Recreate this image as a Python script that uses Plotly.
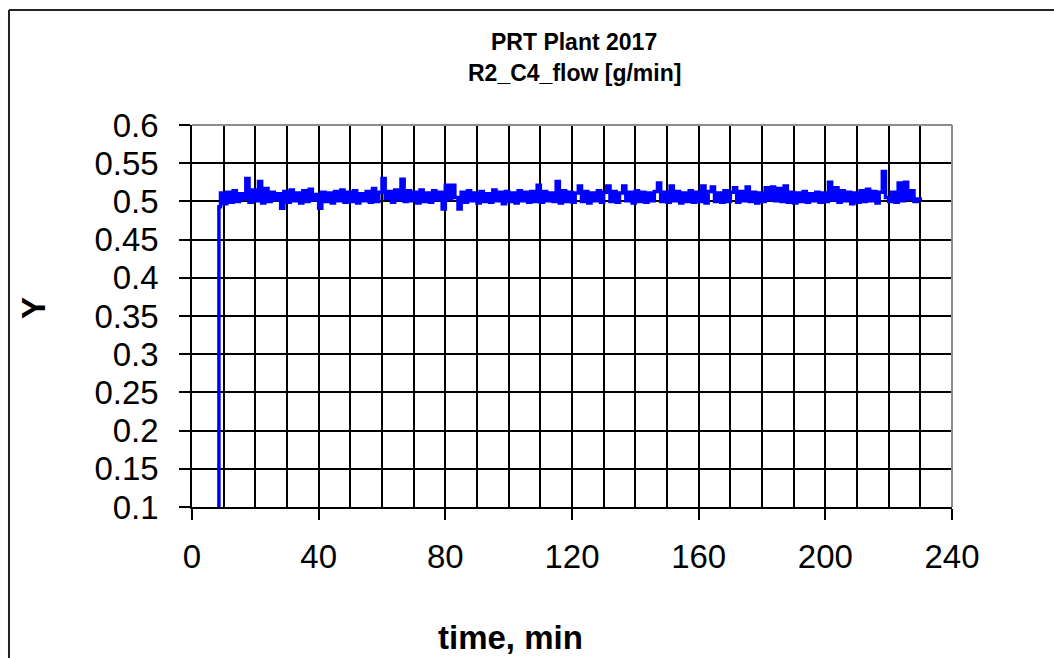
import plotly.graph_objects as go

# R2_C4_flow logged once per minute after the feed was switched on
start_time = [8.5, 8.5]
start_flow = [0.0, 0.493]

flow_time_first = 9
flow_values = [
    0.511, 0.497, 0.512, 0.499, 0.514, 0.500, 0.510, 0.503, 0.530, 0.499,
    0.515, 0.501, 0.526, 0.498, 0.517, 0.500, 0.512, 0.502, 0.510, 0.491,
    0.513, 0.499, 0.515, 0.501, 0.511, 0.498, 0.514, 0.500, 0.516, 0.502,
    0.509, 0.491, 0.512, 0.500, 0.511, 0.498, 0.513, 0.501, 0.515, 0.499,
    0.512, 0.500, 0.514, 0.498, 0.510, 0.501, 0.513, 0.499, 0.517, 0.500,
    0.512, 0.530, 0.504, 0.513, 0.499, 0.515, 0.502, 0.529, 0.500, 0.514,
    0.501, 0.512, 0.498, 0.515, 0.500, 0.511, 0.499, 0.514, 0.502, 0.512,
    0.490, 0.521, 0.503, 0.521, 0.505, 0.490, 0.512, 0.499, 0.514, 0.501,
    0.511, 0.498, 0.513, 0.500, 0.510, 0.499, 0.515, 0.501, 0.512, 0.497,
    0.513, 0.500, 0.511, 0.498, 0.514, 0.501, 0.512, 0.499, 0.513, 0.500,
    0.521, 0.499, 0.513, 0.501, 0.511, 0.500, 0.526, 0.498, 0.514, 0.500,
    0.512, 0.499, 0.511, 0.520, 0.500, 0.513, 0.498, 0.511, 0.501, 0.514,
    0.499, 0.512, 0.520, 0.500, 0.513, 0.499, 0.511, 0.520, 0.501, 0.512,
    0.498, 0.514, 0.500, 0.512, 0.499, 0.511, 0.501, 0.513, 0.524, 0.500,
    0.512, 0.499, 0.520, 0.501, 0.513, 0.498, 0.511, 0.500, 0.514, 0.499,
    0.512, 0.500, 0.520, 0.498, 0.513, 0.519, 0.500, 0.511, 0.499, 0.514,
    0.500, 0.512, 0.518, 0.499, 0.513, 0.501, 0.519, 0.500, 0.512, 0.498,
    0.511, 0.500, 0.518, 0.502, 0.519, 0.501, 0.517, 0.500, 0.520, 0.499,
    0.512, 0.498, 0.511, 0.500, 0.513, 0.499, 0.510, 0.501, 0.512, 0.499,
    0.511, 0.500, 0.525, 0.502, 0.518, 0.499, 0.514, 0.501, 0.512, 0.497,
    0.511, 0.499, 0.514, 0.500, 0.516, 0.501, 0.513, 0.498, 0.512, 0.539,
    0.505, 0.500, 0.512, 0.499, 0.524, 0.501, 0.525, 0.503, 0.514, 0.500,
    0.503, 0.501,
]
flow_time = [flow_time_first + i for i in range(len(flow_values))]

x_ticks = [0, 40, 80, 120, 160, 200, 240]
y_ticks = [0.1, 0.15, 0.2, 0.25, 0.3, 0.35, 0.4, 0.45, 0.5, 0.55, 0.6]
y_tick_text = ["0.1", "0.15", "0.2", "0.25", "0.3", "0.35", "0.4", "0.45", "0.5", "0.55", "0.6"]

FONT = "Liberation Sans, Arial, sans-serif"

fig = go.Figure()
fig.add_trace(go.Scatter(
    x=start_time + flow_time,
    y=start_flow + flow_values,
    mode="lines",
    line=dict(color="#0000FF", width=3.5, shape="hv"),
    hoverinfo="x+y",
    showlegend=False,
))

fig.update_layout(
    width=1054, height=658,
    margin=dict(l=192, r=102, t=125, b=151),
    paper_bgcolor="white", plot_bgcolor="white",
    font=dict(family=FONT, color="black"),
    xaxis=dict(
        range=[0, 240], tickvals=x_ticks, ticktext=[str(v) for v in x_ticks],
        ticks="outside", ticklen=11, tickwidth=1.5, tickcolor="black",
        showgrid=True, gridcolor="black", gridwidth=1.5,
        minor=dict(dtick=10, tick0=0, showgrid=True, gridcolor="black", gridwidth=1.5, ticks=""),
        showline=True, linecolor="black", linewidth=1.5,
        tickfont=dict(size=33, family=FONT),
        ticklabelstandoff=9,
        zeroline=False, fixedrange=True,
    ),
    yaxis=dict(
        range=[0.1, 0.6], tickvals=y_ticks, ticktext=y_tick_text,
        ticks="outside", ticklen=11, tickwidth=1.5, tickcolor="black",
        showgrid=True, gridcolor="black", gridwidth=1.5,
        showline=True, linecolor="black", linewidth=1.5,
        tickfont=dict(size=33, family=FONT),
        ticklabelstandoff=14,
        zeroline=False, fixedrange=True,
    ),
    shapes=[
        # grey plot-area border on the top and right
        dict(type="line", xref="paper", yref="paper", x0=0, x1=1, y0=1, y1=1,
             line=dict(color="#8c8c8c", width=2)),
        dict(type="line", xref="paper", yref="paper", x0=1, x1=1, y0=0, y1=1,
             line=dict(color="#8c8c8c", width=2)),
        # outer chart frame
        dict(type="line", xref="paper", yref="paper", x0=-0.2408, x1=-0.2408, y0=-1, y1=1.301,
             line=dict(color="#222222", width=2)),
        dict(type="line", xref="paper", yref="paper", x0=-0.2408, x1=2, y0=1.301, y1=1.301,
             line=dict(color="#222222", width=2)),
    ],
    annotations=[
        dict(text="<b>PRT Plant 2017</b>", xref="paper", yref="paper",
             x=(574 - 192) / 760, y=(507 - 42) / 382, xanchor="center", yanchor="middle",
             showarrow=False, font=dict(size=23, family=FONT)),
        dict(text="<b>R2_C4_flow [g/min]</b>", xref="paper", yref="paper",
             x=(574 - 192) / 760, y=(507 - 73) / 382, xanchor="center", yanchor="middle",
             showarrow=False, font=dict(size=23, family=FONT)),
        dict(text="<b>Y</b>", xref="paper", yref="paper",
             x=(33 - 192) / 760, y=(507 - 308) / 382, xanchor="center", yanchor="middle",
             textangle=-90, showarrow=False, font=dict(size=33, family=FONT)),
        dict(text="<b>time, min</b>", xref="paper", yref="paper",
             x=(510 - 192) / 760, y=(507 - 637) / 382, xanchor="center", yanchor="middle",
             showarrow=False, font=dict(size=33, family=FONT)),
    ],
)

fig.write_html("out.html")
